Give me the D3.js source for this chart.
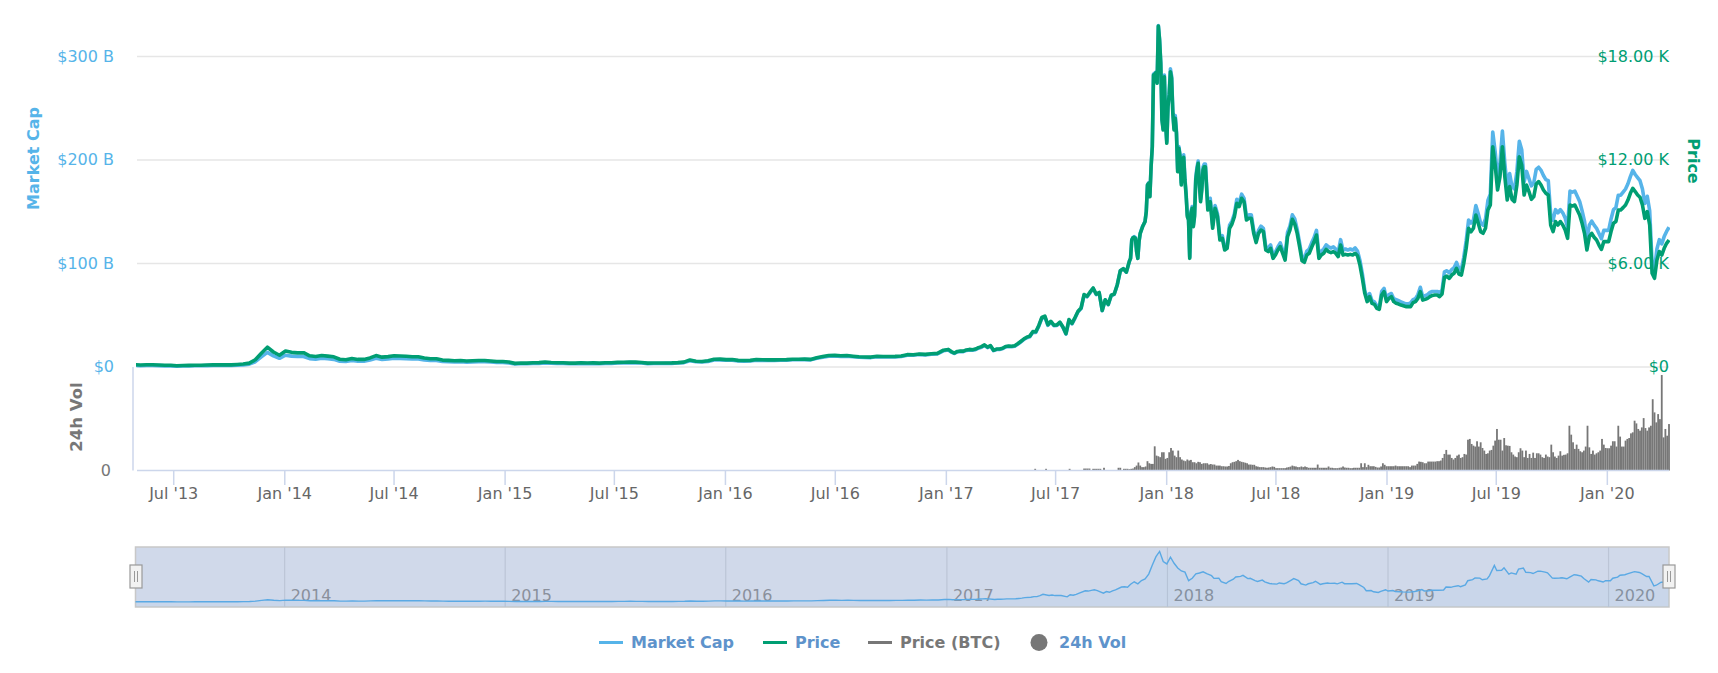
<!DOCTYPE html>
<html>
<head>
<meta charset="utf-8">
<script src="https://d3js.org/d3.v7.min.js"></script>
<style>
html,body{margin:0;padding:0;background:#fff;overflow:hidden}
svg{display:block}
text{font-family:"DejaVu Sans",sans-serif}
.domain{display:none}
</style>
</head>
<body>
<svg id="chart" width="1718" height="673"></svg>
<script>
// ---------- series ----------
// price in USD, market cap in USD billions, volume in USD billions
const priceEarly = [ // from 2013-04-28, every 10 days
135,112,128,130,120,100,100,70,88,95,
105,100,115,125,125,125,125,145,170,225,
420,800,1150,870,680,930,850,820,830,650,
610,670,630,590,450,420,490,440,440,525,
660,570,600,650,635,620,590,590,520,480,
480,400,385,360,380,345,360,380,380,350,
315,315,290,210,235,225,245,255,290,260,
245,245,225,225,245,235,237,225,250,250,
270,278,293,280,260,225,235,230,235,238,
255,285,410,335,320,360,445,455,430,430,
385,375,385,435,420,415,415,420,425,450,
445,455,440,535,605,670,675,650,665,625,
590,580,575,625,610,605,615,635,715,710,
750,730,770,790,975];
const capEarly = [
1.5,1.25,1.43,1.45,1.35,1.12,1.12,0.8,1.0,1.08,
1.2,1.15,1.32,1.45,1.45,1.47,1.48,1.75,2.05,2.75,
5.1,9.8,14.1,10.7,8.4,11.4,10.5,10.1,10.2,8.1,
7.6,8.4,7.9,7.4,5.6,5.3,6.2,5.6,5.6,6.7,
8.4,7.3,7.7,8.4,8.2,8.0,7.7,7.7,6.8,6.3,
6.3,5.3,5.1,4.8,5.1,4.6,4.9,5.1,5.2,4.8,
4.3,4.3,4.0,2.9,3.2,3.1,3.4,3.5,4.0,3.6,
3.4,3.4,3.2,3.2,3.5,3.3,3.3,3.2,3.5,3.5,
3.9,4.0,4.2,4.0,3.8,3.3,3.4,3.4,3.5,3.5,
3.8,4.2,6.1,5.0,4.8,5.4,6.7,6.9,6.5,6.5,
5.8,5.7,5.8,6.6,6.4,6.3,6.4,6.5,6.6,7.0,
7.0,7.1,6.9,8.4,9.5,10.5,10.7,10.3,10.5,9.9,
9.4,9.2,9.1,9.9,9.7,9.6,9.8,10.1,11.4,11.3,
12.0,11.7,12.3,12.7,15.6];

const price2017 = [ // from 2017-01-05, every 5 days
1020,895,810,900,925,920,990,1020,1000,1040,
1125,1180,1285,1150,1240,970,1040,1045,1090,1190,
1215,1200,1230,1345,1480,1620,1730,1790,2050,2040,
2410,2870,2950,2450,2650,2430,2440,2600,2320,1930,
2750,2530,2870,3230,3420,4200,4100,4350,4580,4230,
4320,3280,3900,3630,4160,4230,4770,5580,5700,5500,
6130];
const cap2017 = [
16.5,14.4,13.1,14.5,14.9,14.9,16.0,16.5,16.2,16.8,
18.2,19.1,20.8,18.7,20.2,15.8,16.9,17.0,17.8,19.4,
19.8,19.6,20.1,22.0,24.2,26.5,28.3,29.3,33.6,33.4,
39.5,47.1,48.4,40.2,43.5,39.9,40.1,42.8,38.2,31.8,
45.3,41.7,47.3,53.3,56.4,69.4,67.8,71.9,75.8,70.0,
71.6,54.4,64.7,60.2,69.1,70.3,79.3,92.9,94.9,91.6,
102];

const pricePeak = [ // from 2017-11-03, every 2 days
6300,7360,7500,7520,7460,6690,6300,7270,7750,7940,
8140,8290,8430,9000,10550,10650,9870,11610,12770,16930,
16970,17060,16450,19770,18960,17600,14320,13740,16830,14130,
12970,15090,15770,17120,16730,14710,13740,14420,13550,11320,
12680,12190,10550,11520,12150,10840,9970,8720,8520,6300,
8910,9200,8140,8720,10840,11420,11810,10550,9580,10260,
11420,11610,11610];
const capPeak = [
105,123,125,126,125,112,105,121,129,133,
136,138,141,150,176,178,165,194,213,283,
284,285,275,330,317,294,240,230,282,237,
218,253,265,288,281,247,231,243,228,191,
213,205,178,194,205,183,168,147,144,106,
150,155,137,147,183,193,199,178,162,173,
193,196,196];

const priceLate = [ // from 2018-03-11, every 4 days
9100,9580,8040,9200,8720,7360,7460,6780,6880,8040,
8290,8720,9490,9300,9780,9580,8520,8620,8620,7750,
7210,7750,7940,7850,6780,6690,6880,6300,6490,6780,
6980,6590,6200,7550,7940,8560,8290,7750,6980,
6160,6070,6490,6590,6940,7260,7650,6300,6490,6590,
6820,6690,6630,6690,6590,6400,7070,6490,6530,6490,
6530,6490,6590,6450,5910,5140,4270,3790,4080,3690,
3630,3400,3340,4170,4370,3790,3980,4080,3790,3690,
3650,3590,3550,3500,3500,3500,3730,3790,3980,4370,
3880,3920,3980,4080,4150,4170,4170,4080,4230,5200,
5270,5140,5330,5430,5720,5390,5330,6010,6880,8040,
7840,8040,8810,8330,7840,7750,8040,9100,
9390,12770,11710,10260,11040,12770,11040,9680,10460,9720,
9590,10550,12190,11710,9970,10550,10170,9720,9880,10610,
10750,10550,10260,10070,9970,8230,7850,8430,8230,8430,
8230,7940,7460,9390,9330,9390,9100,8810,8330,7750,
6780,7560,7750,7520,7360,7070,6820,7270,7270,7270,
7850,8330,8430,9100,9100,9240,9390,9680,10070,10360,
10170,9970,9840,9390,8620,9010,8230,5430,5140,6200,
6690,6490,6880,7170,7360];
const capLate = [
155,163,137,156,148,125,127,115,117,137,
141,148,162,159,167,163,145,147,147,132,
123,132,136,134,116,115,118,108,111,116,
120,113,107,130,136,147,143,133,120,
106,105,112,114,120,125,132,109,112,114,
118,116,115,116,114,111,123,113,114,113,
114,113,115,112,103,90,74,66,71,64,
63,59,58,73,76,66,70,71,66,65,
64,63,62,61,61,62,65,66,70,77,
68,69,70,72,73,73,73,72,74,92,
93,91,94,96,101,95,94,106,122,142,
139,142,156,148,139,137,143,161,
167,227,208,183,197,228,197,173,187,174,
172,189,218,210,179,189,182,175,178,191,
193,190,185,181,180,148,142,152,149,152,
149,144,135,170,169,170,165,160,151,141,
123,137,141,137,134,129,124,132,132,132,
143,152,154,166,166,169,172,177,184,190,
186,183,180,172,158,165,151,100,94,114,
123,119,126,131,135];

const volumeValues = [ // from 2017-05-20, every 3 days
0,0,0,1.3,0,0,0,0,0,1.3,
0,0,0,0,0,0,0,0,0,0,
0,0,1.3,0,0,0,0,0,0,0,
1.5,1.5,1.5,1.5,0,1.3,1.3,1.3,1.3,1.3,
0,2.1,0,0,0,0,0,0,0,2.1,
2.1,0,1.3,1.3,1.3,1.0,1.3,1.5,2.6,3.8,
6.2,3.8,2.6,2.6,3.1,7.2,5.6,5.1,5.1,18.7,
11.5,11,10.3,14.1,14.1,9,9.7,14.1,17.4,15.4,
11.5,10.3,15.4,10.3,8.5,7.7,7.2,8.5,7.7,8.2,
6.4,6.4,5.6,6.7,6.4,5.1,5.6,5.6,5.6,4.6,
5,4.6,4.6,3.8,3.8,3.8,3.3,3.3,3.1,3.1,
3.5,5.6,6.4,6.7,7.2,8.2,7.2,6.7,6.4,6,
5.6,4.6,4.6,4.4,4.4,3.3,3,2.6,2.6,2.6,
2.3,2.1,2.3,2.6,3.1,2.8,1.8,1.8,1.8,1.8,
1.8,1.8,2.3,2.6,3,3.8,3.3,3.1,2.6,2.6,
3.1,2.6,3.1,2.6,2.1,2.1,2.1,2.1,2.1,4.6,
2.1,2.1,2.1,2.1,2.1,3.1,2.1,2.1,1.8,1.8,
1.8,2.1,2.3,3.1,2.3,2.1,2.1,
1.8,1.8,2.1,2.1,2.1,2.1,5.6,2.6,5.6,2.6,
4.4,3.3,3.3,3.3,2.8,2.3,2.3,3.1,5.6,4.4,
3.3,3.3,3.3,3.3,3.3,3.8,3.3,3.3,3.3,3.3,
3.3,3.3,3.3,2.6,3.8,3.8,3.8,5.1,6.9,6.7,
6.4,5.6,5.6,6.9,6.9,6.9,6.9,6.9,7.2,7.2,
7.7,9.7,12.8,15.9,12.3,12.3,9.7,8.5,9.7,11.5,
12.3,9.7,10.3,12.8,12.3,23.8,24.4,20.5,19.2,18.5,
22.6,18.5,21.8,17.4,15.4,12.8,13.3,15.4,15.9,19.2,
23.1,32.1,23.8,23.8,15.4,25.1,19.5,19.2,19,14.1,
12.3,10.8,10.3,14.1,17.2,15.4,10.3,15.4,9.7,12.8,
9.7,13.8,9.7,13.3,13.3,12.3,10.3,9.7,12.3,10.8,
10.3,20,14.1,10.8,9.7,11.5,14.9,11.5,12.1,12.3,
13.3,34.6,27.7,21.8,16.7,20,16.7,14.9,14.1,15.4,
18.5,34.6,17.9,12.8,15.4,12.3,13.3,14.1,15.4,24.4,
20,17.4,17.2,17.2,19.2,22.6,22.6,18.5,34.6,26.2,
18.5,18.5,23.1,24.4,25.1,28.7,29.5,38.5,36.4,32.1,
30.8,33.3,40.5,32.8,30.8,33.3,34.6,55.1,44.9,37.2,
43.6,39.7,73.8,25.6,32.1,26.9,35.9];

const xTickDates = ["2013-07-01","2014-01-01","2014-07-01","2015-01-01","2015-07-01","2016-01-01","2016-07-01","2017-01-01","2017-07-01","2018-01-01","2018-07-01","2019-01-01","2019-07-01","2020-01-01"];
const navYears = ["2014-01-01","2015-01-01","2016-01-01","2017-01-01","2018-01-01","2019-01-01","2020-01-01"];
const capTicks = [0,100,200,300];
const priceTicks = [0,6000,12000,18000];
const legendItems = ["Market Cap","Price","Price (BTC)","24h Vol"];

// ---------- dates ----------
const d = s => new Date(s + "T00:00:00Z");
const run = (start, step, n) => d3.range(n).map(i => d3.utcDay.offset(d(start), i * step));
const dates = [].concat(
  run("2013-04-28", 10, priceEarly.length),
  run("2017-01-05", 5, price2017.length),
  run("2017-11-03", 2, pricePeak.length),
  run("2018-03-11", 4, priceLate.length));
const prices = [].concat(priceEarly, price2017, pricePeak, priceLate);
const caps = [].concat(capEarly, cap2017, capPeak, capLate);
const series = dates.map((t, i) => ({t, price: prices[i], cap: caps[i]}));
const volDates = run("2017-05-20", 3, volumeValues.length);

// the navigator shows a coarser, grouped version of the market cap
const navSeries = d3.rollups(series, v => ({t: v[0].t, cap: d3.mean(v, o => o.cap)}),
    o => Math.floor(d3.utcDay.count(d("2013-01-01"), o.t) / 6))
  .map(e => e[1]);

// ---------- layout ----------
const plot = {l: 137, r: 1669, top: 56.5, base: 367, volBase: 470.5};
const nav = {l: 135.5, r: 1669, t: 547, b: 607};
const domain = [d("2013-05-02"), d("2020-04-13")];

const x = d3.scaleUtc().domain(domain).range([plot.l, plot.r]);
const yCap = d3.scaleLinear().domain([0, 300]).range([plot.base, plot.top]);
const yPrice = d3.scaleLinear().domain([0, 18000]).range([plot.base, plot.top]);
const yVol = d3.scaleLinear().domain([0, 80]).range([plot.volBase, plot.base]);
const xNav = d3.scaleUtc().domain(domain).range([137.2, 1670.8]);
const yNav = d3.scaleLinear().domain([0, 310]).range([602, 552]);

const svg = d3.select("#chart");
const BLUE = "#56B4E9", GREEN = "#009E73", GREY = "#777777", LEG = "#5E93CB", AXIS = "#CCD6EB";

const defs = svg.append("defs");
defs.append("clipPath").attr("id", "plotClip").append("rect")
  .attr("x", plot.l - 1).attr("y", 0).attr("width", plot.r - plot.l + 2).attr("height", 480);
defs.append("clipPath").attr("id", "navClip").append("rect")
  .attr("x", nav.l).attr("y", nav.t).attr("width", nav.r - nav.l).attr("height", nav.b - nav.t);

// ---------- grid + y axes ----------
const yLeft = d3.axisLeft(yCap).tickValues(capTicks).tickSize(0).tickPadding(0)
  .tickFormat(v => v === 0 ? "$0" : `$${v} B`);
const gLeft = svg.append("g").attr("transform", "translate(114,0)").call(yLeft);
gLeft.selectAll("text").attr("fill", BLUE).attr("font-size", 16).attr("dy", "4.5").attr("x", 0);
gLeft.attr("font-family", null);

svg.append("g").selectAll("line").data(capTicks).join("line")
  .attr("x1", plot.l).attr("x2", plot.r)
  .attr("y1", v => yCap(v)).attr("y2", v => yCap(v))
  .attr("stroke", "#E6E6E6").attr("stroke-width", 1.5);

// ---------- volume bars ----------
const barW = x(d("2018-01-04")) - x(d("2018-01-01"));
svg.append("g").attr("clip-path", "url(#plotClip)").selectAll("rect")
  .data(volumeValues.map((v, i) => ({v, t: volDates[i]})).filter(o => o.v > 0))
  .join("rect")
  .attr("x", o => x(o.t) - barW / 2).attr("width", barW)
  .attr("y", o => yVol(o.v)).attr("height", o => plot.volBase - yVol(o.v))
  .attr("fill", GREY);

// ---------- lines ----------
const lineCap = d3.line().x(o => x(o.t)).y(o => yCap(o.cap));
const linePrice = d3.line().x(o => x(o.t)).y(o => yPrice(o.price));
const gl = svg.append("g").attr("clip-path", "url(#plotClip)")
  .attr("fill", "none").attr("stroke-width", 3.6).attr("stroke-linejoin", "round");
gl.append("path").datum(series).attr("d", lineCap).attr("stroke", BLUE);
gl.append("path").datum(series).attr("d", linePrice).attr("stroke", GREEN);

// ---------- right axis ----------
const yRight = d3.axisRight(yPrice).tickValues(priceTicks).tickSize(0).tickPadding(0)
  .tickFormat(v => v === 0 ? "$0" : `$${(v / 1000).toFixed(2)} K`);
const gRight = svg.append("g").attr("transform", `translate(${plot.r},0)`).call(yRight);
gRight.selectAll("text").attr("fill", GREEN).attr("font-size", 16).attr("dy", "4.5").attr("x", 0)
  .attr("text-anchor", "end");
gRight.attr("font-family", null);

// ---------- volume axis + x axis ----------
svg.append("line").attr("x1", 133).attr("x2", 133).attr("y1", plot.base).attr("y2", plot.volBase)
  .attr("stroke", AXIS).attr("stroke-width", 1.5);
svg.append("line").attr("x1", plot.l).attr("x2", plot.r).attr("y1", plot.volBase).attr("y2", plot.volBase)
  .attr("stroke", AXIS).attr("stroke-width", 1.5);
const gVol = svg.append("g").attr("transform", "translate(111,0)")
  .call(d3.axisLeft(yVol).tickValues([0]).tickSize(0).tickPadding(0));
gVol.selectAll("text").attr("fill", GREY).attr("font-size", 16).attr("dy", "4.5").attr("x", 0);
gVol.attr("font-family", null);

const xAxis = d3.axisBottom(x).tickValues(xTickDates.map(d)).tickSize(14.5)
  .tickFormat(d3.utcFormat("%b '%y"));
const gX = svg.append("g").attr("transform", `translate(0,${plot.volBase})`).call(xAxis);
gX.attr("font-family", null);
gX.selectAll("line").attr("stroke", AXIS).attr("stroke-width", 1.5);
gX.selectAll("text").attr("fill", "#666666").attr("font-size", 16).attr("y", 28.5).attr("dy", 0);

// ---------- axis titles ----------
const title = (txt, px, py, rot, fill, size) => svg.append("text")
  .attr("transform", `translate(${px},${py}) rotate(${rot})`)
  .attr("text-anchor", "middle").attr("font-weight", "bold").attr("font-size", size)
  .attr("fill", fill).text(txt);
title("Market Cap", 38.5, 158.5, -90, BLUE, 16);
title("Price", 1688, 161, 90, GREEN, 16);
title("24h Vol", 81.5, 417, -90, GREY, 16.5);

// ---------- navigator ----------
svg.append("rect").attr("x", nav.l).attr("y", nav.t).attr("width", nav.r - nav.l).attr("height", nav.b - nav.t)
  .attr("fill", "#D0D9EA").attr("stroke", "#C8C8C8").attr("stroke-width", 1.5);
const gn = svg.append("g");
gn.selectAll("line").data(navYears.map(d)).join("line")
  .attr("x1", xNav).attr("x2", xNav).attr("y1", nav.t).attr("y2", nav.b)
  .attr("stroke", "#BCC5D6").attr("stroke-width", 1.2);
gn.selectAll("text").data(navYears.map(d)).join("text")
  .attr("x", t => xNav(t) + 6).attr("y", 600.5)
  .attr("fill", "#8A909C").attr("font-size", 16).text(d3.utcFormat("%Y"));
const gnl = svg.append("g").attr("clip-path", "url(#navClip)");
gnl.append("path").datum(navSeries)
  .attr("d", d3.area().x(o => xNav(o.t)).y0(nav.b).y1(o => yNav(o.cap)))
  .attr("fill", BLUE).attr("opacity", 0.05);
gnl.append("path").datum(navSeries)
  .attr("d", d3.line().x(o => xNav(o.t)).y(o => yNav(o.cap)))
  .attr("fill", "none").attr("stroke", "#5AA9E4").attr("stroke-width", 1.4);

[nav.l + 0.5, nav.r].forEach(cx => {
  const h = svg.append("g").attr("transform", `translate(${cx},565)`);
  h.append("rect").attr("x", -6).attr("y", 0).attr("width", 12).attr("height", 23)
    .attr("fill", "#F2F2F2").attr("stroke", "#999999").attr("stroke-width", 1.2);
  h.selectAll("line").data([-1.5, 1.5]).join("line")
    .attr("x1", v => v).attr("x2", v => v).attr("y1", 6).attr("y2", 17)
    .attr("stroke", "#999999").attr("stroke-width", 1);
});

// ---------- legend ----------
const legendBase = 648;
const legend = svg.append("g").attr("font-size", 16).attr("font-weight", "bold");
const legendLayout = [
  {sym: "line", c: BLUE, x0: 599, tx: 631, fill: LEG},
  {sym: "line", c: GREEN, x0: 763, tx: 795, fill: LEG},
  {sym: "line", c: GREY, x0: 868, tx: 900, fill: GREY},
  {sym: "dot", c: GREY, x0: 1039, tx: 1059, fill: LEG}
];
legendLayout.forEach((o, i) => {
  if (o.sym === "line") {
    legend.append("line").attr("x1", o.x0).attr("x2", o.x0 + 24)
      .attr("y1", 642.5).attr("y2", 642.5).attr("stroke", o.c).attr("stroke-width", 3);
  } else {
    legend.append("circle").attr("cx", o.x0).attr("cy", 642.5).attr("r", 8.5).attr("fill", o.c);
  }
  legend.append("text").attr("x", o.tx).attr("y", legendBase).attr("fill", o.fill).text(legendItems[i]);
});
</script>
</body>
</html>
